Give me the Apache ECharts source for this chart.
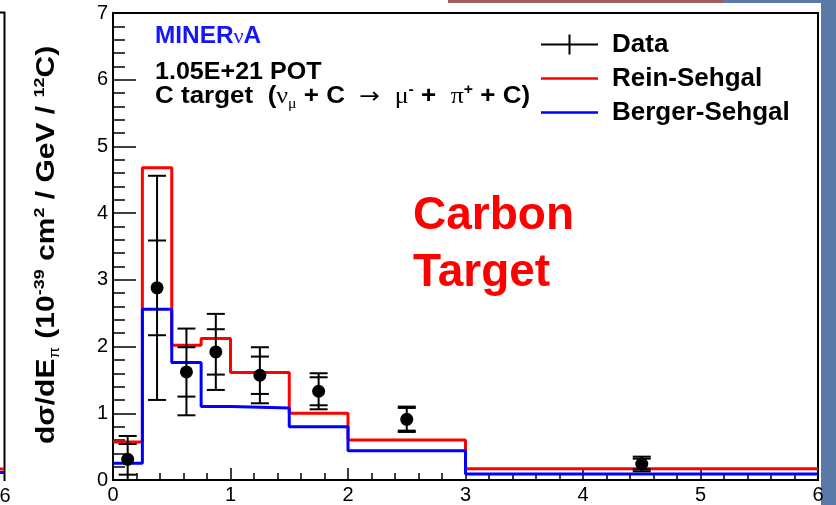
<!DOCTYPE html>
<html>
<head>
<meta charset="utf-8">
<script src="https://cdn.jsdelivr.net/npm/echarts@6/dist/echarts.min.js"></script>
<style>
  html, body { margin: 0; padding: 0; background: #fff; }
  #chart { width: 836px; height: 505px; }
</style>
</head>
<body>
<div id="chart"></div>
<script>
// Pion energy bins (GeV) and model predictions per bin
const binEdges = [0, 0.25, 0.5, 0.75, 1, 1.5, 2, 3, 6];
const reinSehgal = [0.57, 4.68, 2.02, 2.12, 1.61, 1.0, 0.6, 0.17];
const bergerSehgal = [0.25, 2.56, 1.76, 1.1, 1.08, 0.8, 0.44, 0.09];

// Measured cross section: bin centres, values, statistical and total errors
const dataX = [0.125, 0.375, 0.625, 0.875, 1.25, 1.75, 2.5, 4.5];
const dataY = [0.31, 2.88, 1.62, 1.92, 1.57, 1.33, 0.91, 0.24];
const statErr = [0.23, 0.71, 0.37, 0.34, 0.28, 0.21, 0.17, 0.08];
const totalErr = [0.35, 1.68, 0.65, 0.57, 0.42, 0.27, 0.19, 0.11];

// Axis tick labels
const xTicks = [0, 1, 2, 3, 4, 5, 6];
const yTicks = [0, 1, 2, 3, 4, 5, 6, 7];

const FONT = 'Liberation Sans, Arial, Helvetica, sans-serif';
const GREEK = 'Liberation Serif, serif';
const RED = '#ff0000';
const BLUE = '#0000ff';

function stepData(vals) {
  return binEdges.map((e, i) => [e, vals[Math.min(i, vals.length - 1)]]);
}

const errRows = dataX.map((x, i) => [
  x, dataY[i],
  dataY[i] - statErr[i], dataY[i] + statErr[i],
  dataY[i] - totalErr[i], dataY[i] + totalErr[i]
]);

const CAP = 9;
function renderErr(params, api) {
  const x = api.value(0);
  const floor = yTicks[0];
  const st = { stroke: '#000', lineWidth: 2 };
  const hiOut = api.coord([x, api.value(5)]);
  const loOut = api.coord([x, Math.max(api.value(4), floor)]);
  const hiIn = api.coord([x, api.value(3)]);
  const loIn = api.coord([x, Math.max(api.value(2), floor)]);
  const cap = p => ({ type: 'line', shape: { x1: p[0] - CAP, y1: p[1], x2: p[0] + CAP, y2: p[1] }, style: st });
  const children = [
    { type: 'line', shape: { x1: hiOut[0], y1: hiOut[1], x2: loOut[0], y2: loOut[1] }, style: st },
    cap(hiOut), cap(hiIn)
  ];
  if (api.value(4) > floor) children.push(cap(loOut));
  if (api.value(2) > floor) children.push(cap(loIn));
  return { type: 'group', children };
}

const axisCommon = {
  type: 'value',
  axisLine: { show: true, onZero: false, lineStyle: { color: '#000', width: 2 } },
  splitLine: { show: false },
  axisLabel: { color: '#000', fontSize: 20, fontFamily: FONT, margin: 5 }
};

const option = {
  animation: false,
  backgroundColor: '#fff',
  grid: { left: 113, right: 18, top: 13, bottom: 25, show: true, borderColor: '#000', borderWidth: 2, backgroundColor: '#fff' },
  xAxis: Object.assign({}, axisCommon, {
    min: xTicks[0], max: xTicks[xTicks.length - 1], interval: 1,
    axisTick: { inside: true, length: 12, lineStyle: { color: '#000', width: 1.5 } },
    minorTick: { show: true, splitNumber: 5, length: 7, lineStyle: { color: '#000', width: 1.5 } }
  }),
  yAxis: Object.assign({}, axisCommon, {
    min: yTicks[0], max: yTicks[yTicks.length - 1], interval: 1,
    axisTick: { inside: true, length: 23, lineStyle: { color: '#000', width: 1.5 } },
    minorTick: { show: true, splitNumber: 5, length: 12, lineStyle: { color: '#000', width: 1.5 } }
  }),
  legend: {
    orient: 'vertical', left: 541, top: 31, padding: 0,
    itemWidth: 57, itemHeight: 20, itemGap: 7,
    selectedMode: false,
    itemStyle: { borderWidth: 0 },
    textStyle: { fontSize: 26, fontWeight: 'bold', fontFamily: FONT, color: '#000', lineHeight: 27, padding: [0, 0, 0, 9] },
    data: [
      { name: 'Data', icon: 'path://M0,9h57v2h-57z M27.5,0h2v20h-2z' },
      { name: 'Rein-Sehgal', icon: 'path://M0,0h0.01v0.01h-0.01z M0,8.7h57v2.6h-57z M56.99,19.99h0.01v0.01h-0.01z' },
      { name: 'Berger-Sehgal', icon: 'path://M0,0h0.01v0.01h-0.01z M0,8.7h57v2.6h-57z M56.99,19.99h0.01v0.01h-0.01z' }
    ]
  },
  series: [
    {
      name: 'Rein-Sehgal', type: 'line', step: 'end', symbol: 'none', color: RED,
      itemStyle: { color: RED }, lineStyle: { color: RED, width: 3 },
      data: stepData(reinSehgal), z: 2
    },
    {
      name: 'Berger-Sehgal', type: 'line', step: 'end', symbol: 'none', color: BLUE,
      itemStyle: { color: BLUE }, lineStyle: { color: BLUE, width: 3 },
      data: stepData(bergerSehgal), z: 3
    },
    {
      name: 'Data', type: 'custom', renderItem: renderErr, data: errRows, z: 4,
      color: '#000', encode: { x: 0, y: [1, 2, 3, 4, 5] }
    },
    {
      name: 'Data', type: 'scatter', symbol: 'circle', symbolSize: 13, color: '#000',
      itemStyle: { color: '#000', opacity: 1 }, data: dataX.map((x, i) => [x, dataY[i]]), z: 5
    }
  ],
  graphic: [
    // slide surroundings
    { type: 'rect', shape: { x: 448, y: 0, width: 275, height: 3 }, style: { fill: '#a25b5f' }, silent: true },
    { type: 'rect', shape: { x: 723, y: 0, width: 113, height: 3 }, style: { fill: '#5b79a7' }, silent: true },
    { type: 'rect', shape: { x: 821, y: 0, width: 15, height: 505 }, style: { fill: '#5b79a7' }, silent: true },
    // edge of the neighbouring panel
    { type: 'line', shape: { x1: 4.5, y1: 12, x2: 4.5, y2: 481 }, style: { stroke: '#000', lineWidth: 2 }, silent: true },
    { type: 'line', shape: { x1: 0, y1: 12.5, x2: 5, y2: 12.5 }, style: { stroke: '#000', lineWidth: 2 }, silent: true },
    { type: 'line', shape: { x1: 0, y1: 469, x2: 4, y2: 469 }, style: { stroke: RED, lineWidth: 3 }, silent: true },
    { type: 'line', shape: { x1: 0, y1: 472.5, x2: 4, y2: 472.5 }, style: { stroke: BLUE, lineWidth: 3 }, silent: true },
    { type: 'text', x: 5, y: 496, style: { text: '6', fontSize: 20, fontFamily: FONT, fill: '#000', align: 'center', verticalAlign: 'middle' }, silent: true },

    // y-axis title
    {
      type: 'text', x: 47, y: 245, rotation: Math.PI / 2, scaleX: 1.2, silent: true,
      style: {
        text: '{b|dσ/dE}{sub|π}{b| (10}{sup|-39}{b| cm}{sup|2}{b| / GeV / }{sup|12}{b|C)}',
        align: 'center', verticalAlign: 'middle', fill: '#000',
        rich: {
          b: { fontSize: 25, fontWeight: 'bold', fontFamily: FONT, lineHeight: 30, fill: '#000' },
          sub: { fontSize: 14, fontFamily: FONT, lineHeight: 14, verticalAlign: 'bottom', fill: '#000' },
          sup: { fontSize: 15, fontWeight: 'bold', fontFamily: FONT, lineHeight: 15, verticalAlign: 'top', fill: '#000' }
        }
      }
    },

    // experiment labels
    {
      type: 'text', x: 155, y: 37, scaleX: 1.06, silent: true,
      style: {
        text: '{a|MINER}{n|ν}{a|A}', verticalAlign: 'middle',
        rich: {
          a: { fontSize: 23, fontWeight: 'bold', fontFamily: FONT, fill: '#1414ff' },
          n: { fontSize: 21, fontFamily: GREEK, fill: '#1414ff' }
        }
      }
    },
    {
      type: 'text', x: 155, y: 73, scaleX: 1.09, silent: true,
      style: { text: '1.05E+21 POT', fontSize: 23, fontWeight: 'bold', fontFamily: FONT, fill: '#000', verticalAlign: 'middle' }
    },
    {
      type: 'text', x: 155, y: 97, scaleX: 1.13, silent: true,
      style: {
        text: '{t|C target  (}{g|ν}{gs|μ}{t| + C  }{ar|→}{t|  }{g|μ}{sp|-}{t| +  }{g|π}{sp|+}{t| + C)}',
        verticalAlign: 'middle',
        rich: {
          t: { fontSize: 23, fontWeight: 'bold', fontFamily: FONT, fill: '#000', lineHeight: 28 },
          g: { fontSize: 23, fontFamily: GREEK, fill: '#000', lineHeight: 28 },
          ar: { fontSize: 22, fontFamily: 'DejaVu Sans, sans-serif', fill: '#000', lineHeight: 28 },
          gs: { fontSize: 14, fontFamily: GREEK, fill: '#000', lineHeight: 12, verticalAlign: 'bottom' },
          sp: { fontSize: 14, fontWeight: 'bold', fontFamily: FONT, fill: '#000', lineHeight: 12, verticalAlign: 'top' }
        }
      }
    },

    // panel tag
    {
      type: 'text', x: 413, y: 216, silent: true,
      style: { text: 'Carbon', fontSize: 46, fontWeight: 'bold', fontFamily: FONT, fill: RED, verticalAlign: 'middle' }
    },
    {
      type: 'text', x: 413, y: 273, silent: true,
      style: { text: 'Target', fontSize: 46, fontWeight: 'bold', fontFamily: FONT, fill: RED, verticalAlign: 'middle' }
    }
  ]
};

const chart = echarts.init(document.getElementById('chart'), null, { renderer: 'canvas' });
chart.setOption(option);
</script>
</body>
</html>
